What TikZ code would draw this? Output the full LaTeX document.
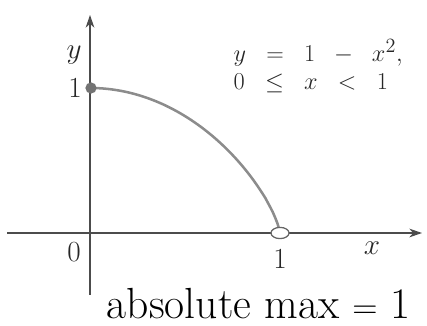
\documentclass[tikz,border=0pt]{standalone}
\usetikzlibrary{arrows.meta, positioning, shapes.geometric}

\begin{document}
\begin{tikzpicture}[
    x=0.025cm, y=0.025cm,
    axis line/.style={
        draw=black!70,
        line width=1pt,
        -{Stealth[length=3.2mm, width=2.2mm]}
    },
    curve line/.style={
        draw=black!45,
        line width=1.8pt
    },
    closed dot/.style={
        circle,
        fill=black!55,
        inner sep=0pt,
        minimum size=8pt
    },
    open dot/.style={
        ellipse,
        draw=black!60,
        fill=white,
        line width=0.9pt,
        inner sep=0pt,
        minimum width=0.45cm,
        minimum height=0.28cm
    },
    tick text/.style={
        font=\fontsize{21}{24}\selectfont,
        text=black!85
    },
    formula text/.style={
        font=\fontsize{19}{22}\selectfont,
        text=black!85,
        inner sep=1pt
    }
]

    \useasboundingbox (0,0) rectangle (427,326);

    % origin and axis ends
    \coordinate (origin) at (90,93);
    \coordinate (xstart) at (7,93);
    \coordinate (xend) at (422,93);
    \coordinate (ystart) at (90,31);
    \coordinate (yend) at (90,311);

    % --- AXES ---
    \draw[axis line] (xstart) -- (xend);
    \draw[axis line] (ystart) -- (yend);

    % --- CURVE y = 1 - x^2 ---
    \draw[curve line] plot[domain=0:1, samples=80]
        ({90+190*\x}, {93+145*(max(1-\x*\x,0.00001))^0.75});

    % end points
    \node[closed dot] (top) at (91,238) {};
    \node[open dot] (right) at (280,93) {};

    % --- LABELS ---
    \node[tick text] (ylbl) at (74,271) {$y$};
    \node[tick text] (onelbl) at (75,238) {$1$};
    \node[tick text] (zerolbl) at (74,74) {$0$};
    \node[tick text, below=4pt of right] (onex) {$1$};
    \node[tick text] (xlbl) at (372,78) {$x$};

    % formula
    \node[formula text, anchor=west] (formula) at (232,273) {$y \;\;=\;\; 1 \;\;-\;\; x^2,$};
    \node[formula text, anchor=west] (domain) at (232,243) {$0 \;\;\leq\;\; x \;\;<\;\; 1$};

    % --- NOTE ---
    \node[font=\fontsize{31}{34}\selectfont, anchor=west] (note) at (102,22) {absolute max $=$ 1};

\end{tikzpicture}
\end{document}
